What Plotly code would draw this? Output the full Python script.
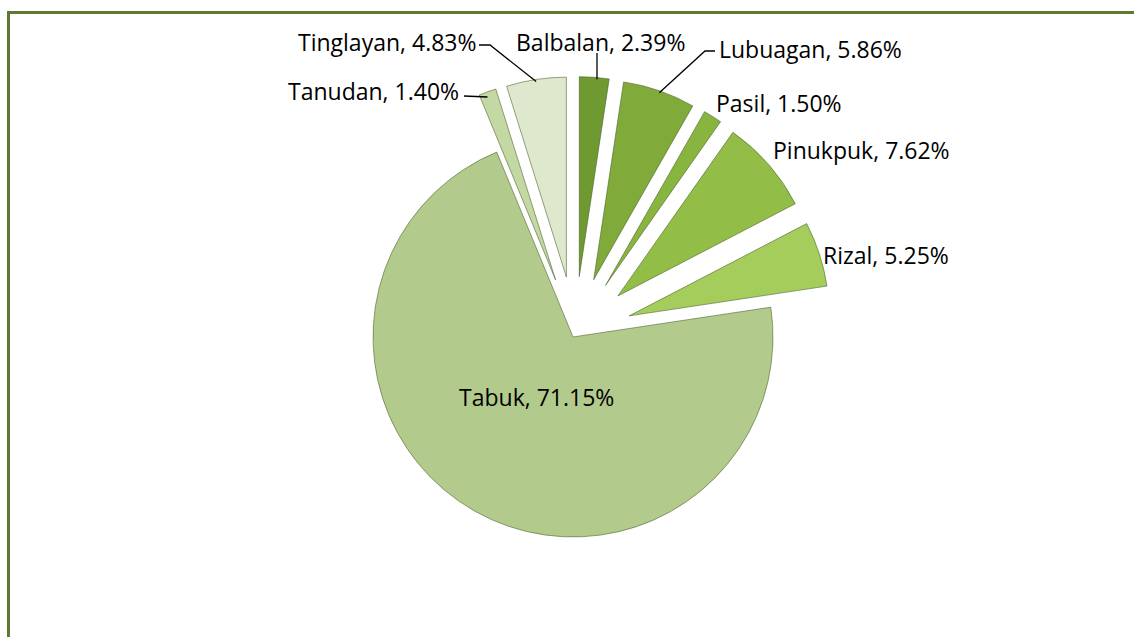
import math
import plotly.graph_objects as go

# ---- data ----
municipalities = ["Balbalan", "Lubuagan", "Pasil", "Pinukpuk", "Rizal", "Tabuk", "Tanudan", "Tinglayan"]
shares = [2.39, 5.86, 1.50, 7.62, 5.25, 71.15, 1.40, 4.83]
label_texts = [f"{m}, {v:.2f}%" for m, v in zip(municipalities, shares)]

# ---- styling ----
colors = ["#6f9a32", "#80ab3b", "#88b440", "#92be48", "#a4cd5c", "#b2cb8d", "#c3d8a2", "#dde8cd"]
pulls = [0.285, 0.285, 0.285, 0.285, 0.285, 0.02, 0.285, 0.285]

W, H = 1134, 637
CX, CY, R = 575.0, 333.5, 200.0
maxpull = max(pulls)
box = 2 * R * (1 + maxpull)


def px(x):
    return x / W


def py(y):
    return 1 - y / H


fig = go.Figure()
fig.add_trace(go.Pie(
    labels=municipalities,
    values=shares,
    sort=False,
    direction="clockwise",
    rotation=0,
    pull=pulls,
    textinfo="none",
    hoverinfo="label+percent",
    marker=dict(colors=colors, line=dict(color="rgba(70,90,35,0.55)", width=1)),
    domain=dict(x=[px(CX - 300), px(CX + 300)], y=[py(CY + box / 2), py(CY - box / 2)]),
    showlegend=False,
))


# outer-arc midpoint of each slice (pixel coords), derived from the values
def outer_mid(i):
    total = sum(shares)
    start = sum(shares[:i]) / total * 360
    mid = math.radians(start + shares[i] / total * 180)
    d = R * (1 + pulls[i])
    return CX + d * math.sin(mid), CY - d * math.cos(mid)


font = dict(family="Open Sans, Noto Sans, sans-serif", size=23, color="#000000")

# label positions: (x, y, xanchor)
label_pos = {
    "Balbalan": (514, 42, "left"),
    "Lubuagan": (717, 49, "left"),
    "Pasil": (714, 103, "left"),
    "Pinukpuk": (771, 150, "left"),
    "Rizal": (821, 255, "left"),
    "Tabuk": (457, 397, "left"),
    "Tanudan": (461, 91, "right"),
    "Tinglayan": (479, 42, "right"),
}

for m, t in zip(municipalities, label_texts):
    x, y, xa = label_pos[m]
    fig.add_annotation(x=px(x), y=py(y), xref="paper", yref="paper", text=t,
                       showarrow=False, xanchor=xa, yanchor="middle", font=font)

# leader lines
leaders = {
    "Tinglayan": [(479, 45), (490, 45)],
    "Tanudan": [(464, 96)],
    "Balbalan": [(597, 53)],
    "Lubuagan": [(715, 51), (705, 51)],
}
for m, pts in leaders.items():
    ex, ey = outer_mid(municipalities.index(m))
    if m == "Balbalan":
        ex = pts[0][0]
    if m == "Tanudan":
        ey = pts[0][1] - 1
    allpts = pts + [(ex, ey + 2)]
    path = "M " + " L ".join(f"{px(a)},{py(b)}" for a, b in allpts)
    fig.add_shape(type="path", path=path, xref="paper", yref="paper",
                  line=dict(color="#000000", width=1.3))

# chart-area frame (top and left edges visible)
fig.add_shape(type="rect", xref="paper", yref="paper",
              x0=px(8.5), y0=-0.05, x1=1.05, y1=py(12.5),
              line=dict(color="#5f7a30", width=3), fillcolor="rgba(0,0,0,0)", layer="below")

fig.update_layout(
    width=W, height=H,
    margin=dict(l=0, r=0, t=0, b=0),
    paper_bgcolor="#ffffff",
    plot_bgcolor="#ffffff",
)

fig.write_html(
    "out.html",
    config={"displayModeBar": False},
    post_script="document.body.style.margin='0';document.body.style.overflow='hidden';",
)
